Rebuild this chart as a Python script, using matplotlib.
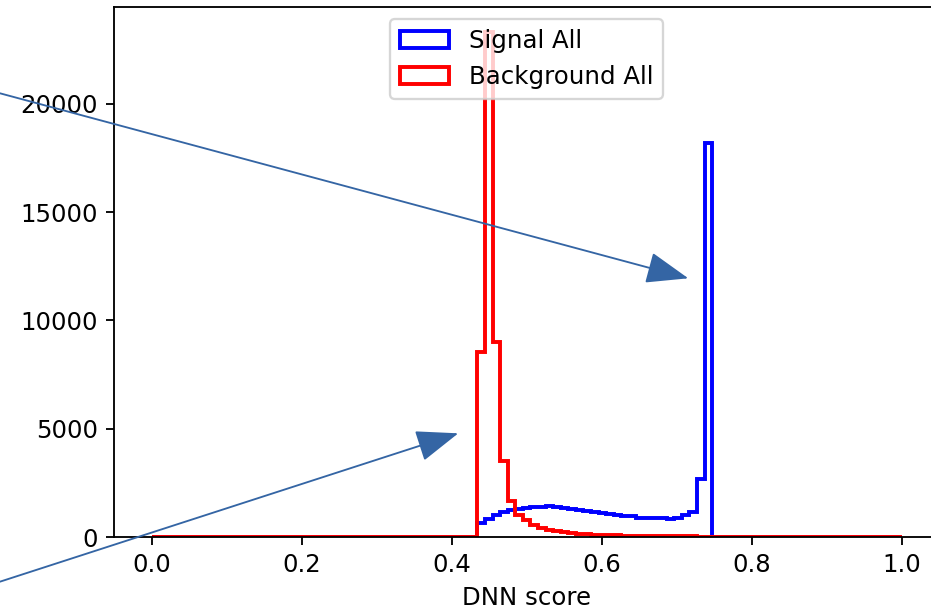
import numpy as np
import matplotlib.pyplot as plt
from matplotlib.patches import FancyArrowPatch

# 99 equal-width bins on [0, 1]
edges = np.linspace(0, 1, 100)
first_bin = 43

# counts per bin, starting at bin 43 (everything else is empty)
signal_counts = [650, 850, 1000, 1150, 1250, 1300, 1330, 1370, 1400, 1410,
                 1390, 1340, 1290, 1240, 1190, 1150, 1110, 1060, 1020, 990,
                 950, 900, 870, 880, 860, 850, 900, 1000, 1150, 2700, 18200]
background_counts = [8550, 23300, 9000, 3500, 1650, 1000, 780, 560, 420, 330,
                     260, 210, 170, 140, 120, 100, 90, 80, 70, 60,
                     55, 50, 45, 40, 40, 35, 30, 30, 25, 20, 20, 15]

def full_counts(vals):
    c = np.zeros(len(edges) - 1)
    c[first_bin:first_bin + len(vals)] = vals
    return c

centers = 0.5 * (edges[:-1] + edges[1:])
sig = full_counts(signal_counts)
bkg = full_counts(background_counts)

plt.rcParams['font.size'] = 10.6

dpi = 166
fig = plt.figure(figsize=(932 / dpi, 611 / dpi), dpi=dpi)
ax = fig.add_axes([0.1226, 0.1211, 0.8849, 0.8674])

ax.hist(centers, bins=edges, weights=sig, histtype='step', color='blue', lw=1.7, label='Signal All')
ax.hist(centers, bins=edges, weights=bkg, histtype='step', color='red', lw=1.7, label='Background All')
ax.set_xlabel('DNN score')
ax.legend(loc='upper center')

# pointer arrows over the plot
arrow_color = '#3465a4'
arrows = [((0.0, 0.8473), (0.7385, 0.5445)),
          ((0.0, 0.0480), (0.4917, 0.2908))]
for start, end in arrows:
    a = FancyArrowPatch(start, end, transform=fig.transFigure,
                        arrowstyle='-|>,head_length=1.6,head_width=0.6',
                        mutation_scale=10, color=arrow_color, lw=0.8,
                        shrinkA=0, shrinkB=0, zorder=10)
    fig.add_artist(a)

fig.savefig('out.png', dpi=dpi)
